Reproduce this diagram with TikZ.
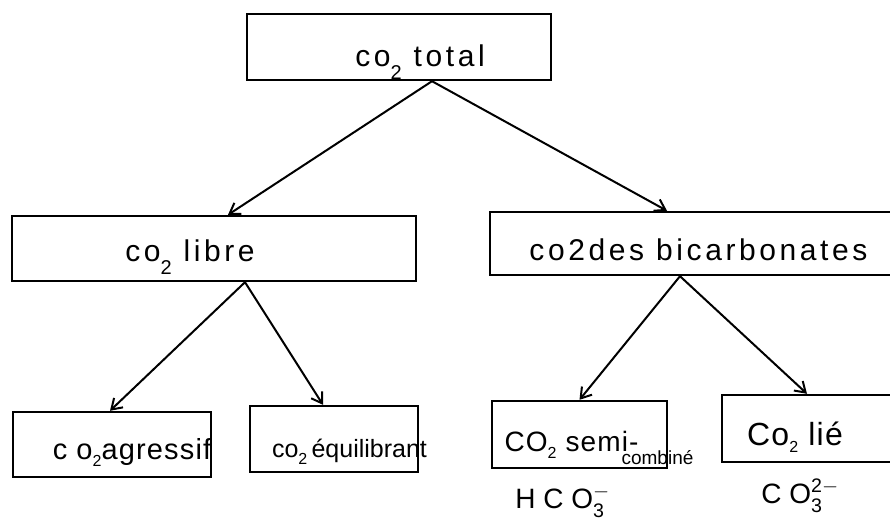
\documentclass[tikz,border=0pt]{standalone}
\usepackage{amsmath}
\usepackage{fontspec}
\setmainfont{Liberation Sans}
\newfontfamily\typedfont[LetterSpace=12]{Liberation Sans}
\newfontfamily\lightfont[LetterSpace=4]{Liberation Sans}
\newfontfamily\handfont{Liberation Sans}
\newfontfamily\handwide[LetterSpace=4]{Liberation Sans}
\usetikzlibrary{arrows.meta}
\newcommand\dntwo{\raisebox{-13pt}{\fontsize{20}{20}\selectfont 2}}
\newcommand\smtwo{\raisebox{-7pt}{\fontsize{16}{16}\selectfont 2}}
\begin{document}
\begin{tikzpicture}[x=1pt,y=-1pt,
  box/.style={draw, line width=2.4pt, inner sep=0pt},
  typed/.style={font=\typedfont\fontsize{30}{33}\selectfont, anchor=base},
  agrfont/.style={font=\lightfont\fontsize{29}{32}\selectfont, anchor=base},
  hand/.style={font=\handfont\fontsize{25}{28}\selectfont, anchor=base},
  conn/.style={-{Straight Barb[length=10pt,width=13pt]}, line width=2pt}]
\clip (0,0) rectangle (890,522);
\useasboundingbox (0,0) rectangle (890,522);

% level 1
\node[box, minimum width=304pt, minimum height=66pt,
  label={[typed, xshift=21pt, yshift=-15pt]center:co\dntwo\ total}] (total) at (399,47) {};

% level 2
\node[box, minimum width=404pt, minimum height=65pt,
  label={[typed, xshift=-24pt, yshift=-8.5pt]center:co\dntwo\ libre}] (libre) at (214,248.5) {};
\node[box, minimum width=410pt, minimum height=63pt,
  label={[typed, xshift=3.5pt, yshift=-6.5pt]center:co2des bicarbonates}] (bic) at (695,243.5) {};

% level 3
\node[box, minimum width=198pt, minimum height=65pt,
  label={[agrfont, xshift=20pt, yshift=-7.5pt]center:c o\smtwo agressif}] (agr) at (112,444.5) {};
\node[box, minimum width=168pt, minimum height=66pt,
  label={[hand, xshift=15.5pt, yshift=-13pt]center:co\smtwo\,équilibrant}] (equ) at (334,439) {};
\node[box, minimum width=175pt, minimum height=67pt,
  label={[hand, font=\handwide\fontsize{28}{30}\selectfont, xshift=-8pt, yshift=-10.5pt]center:CO\smtwo\ semi-},
  label={[hand, font=\handfont\fontsize{19}{21}\selectfont, xshift=78pt, yshift=-23.5pt]center:combiné}] (semi) at (579.5,434.5) {};
\node[box, minimum width=178pt, minimum height=67pt,
  label={[hand, font=\handwide\fontsize{32}{34}\selectfont, xshift=-16pt, yshift=-8.5pt]center:Co\smtwo\ lié}] (lie) at (811,428.5) {};

% ion formulas
\node[hand, font=\handfont\fontsize{28}{30}\selectfont] (hco) at (562.5,508) {H C O$^{-}_{\text{3}}$};
\node[hand, font=\handfont\fontsize{28}{30}\selectfont] (co3) at (800,503) {C O$^{\text{2}-}_{\text{3}}$};

% connectors
\draw[conn] ([xshift=33pt]total.south) -- ([xshift=14pt]libre.north);
\draw[conn] ([xshift=33pt]total.south) -- ([xshift=-28pt]bic.north);
\draw[conn] ([xshift=31pt]libre.south) -- ([xshift=-2pt]agr.north);
\draw[conn] ([xshift=31pt]libre.south) -- ([xshift=-11pt]equ.north);
\draw[conn] ([xshift=-15pt]bic.south) -- (semi.north);
\draw[conn] ([xshift=-15pt]bic.south) -- ([xshift=-4pt]lie.north);
\end{tikzpicture}
\end{document}
